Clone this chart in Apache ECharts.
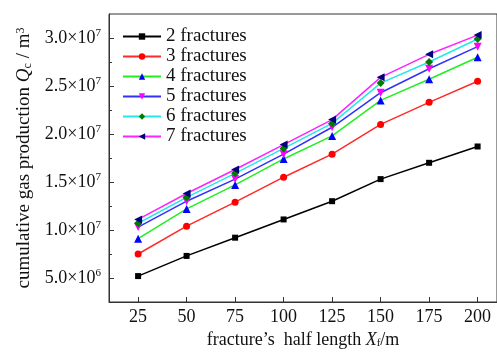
<!DOCTYPE html>
<html>
<head>
<meta charset="utf-8">
<script src="https://cdn.jsdelivr.net/npm/echarts@6/dist/echarts.min.js"></script>
<style>
  html, body { margin: 0; padding: 0; background: #fff; }
  #main { width: 497px; height: 356px; }
</style>
</head>
<body>
<div id="main"></div>
<script>
// fracture half length (m)
const halfLength = [25, 50, 75, 100, 125, 150, 175, 200]
// cumulative gas production (m^3)
const frac2 = [5.2e6, 7.3e6, 9.2e6, 11.1e6, 13.0e6, 15.3e6, 17.0e6, 18.7e6]
const frac3 = [7.5e6, 10.4e6, 12.9e6, 15.5e6, 17.9e6, 21.0e6, 23.3e6, 25.5e6]
const frac4 = [9.1e6, 12.2e6, 14.7e6, 17.4e6, 19.8e6, 23.5e6, 25.7e6, 28.0e6]
const frac5 = [10.3e6, 13.0e6, 15.3e6, 17.9e6, 20.7e6, 24.3e6, 26.8e6, 29.1e6]
const frac6 = [10.7e6, 13.4e6, 15.9e6, 18.5e6, 21.1e6, 25.3e6, 27.5e6, 29.9e6]
const frac7 = [11.1e6, 13.8e6, 16.3e6, 18.9e6, 21.5e6, 25.9e6, 28.3e6, 30.3e6]
const seriesNames = ['2 fractures', '3 fractures', '4 fractures', '5 fractures', '6 fractures', '7 fractures']

// axis ticks
const xTicks = [25, 50, 75, 100, 125, 150, 175, 200]
const yTicks = [5e6, 1e7, 1.5e7, 2e7, 2.5e7, 3e7]
const yMinorTicks = [7.5e6, 1.25e7, 1.75e7, 2.25e7, 2.75e7]

const font = 'Liberation Serif'

// 3.0x10^7 style label
function sciLabel(v) {
    const exp = Math.floor(Math.log10(v))
    const m = (v / Math.pow(10, exp)).toFixed(1)
    return '{b|' + m + '×10}{s|' + exp + '}'
}

const styles = [
    { line: '#000000', mark: '#000000', symbol: 'rect', rotate: 0, size: 6 },
    { line: '#ff2a2a', mark: '#ff0000', symbol: 'circle', rotate: 0, size: 7 },
    { line: '#22ee22', mark: '#0000ff', symbol: 'triangle', rotate: 0, size: 8 },
    { line: '#3030ff', mark: '#ff00ff', symbol: 'triangle', rotate: 180, size: 8 },
    { line: '#22e8e8', mark: '#007a00', symbol: 'diamond', rotate: 0, size: 8 },
    { line: '#ff22ff', mark: '#000080', symbol: 'triangle', rotate: 90, size: 8 }
]
const allData = [frac2, frac3, frac4, frac5, frac6, frac7]

const series = allData.map((d, i) => ({
    name: seriesNames[i],
    type: 'line',
    yAxisIndex: 0,
    data: halfLength.map((x, j) => [x, d[j]]),
    symbol: styles[i].symbol,
    symbolRotate: styles[i].rotate,
    symbolSize: styles[i].size,
    lineStyle: { color: styles[i].line, width: 1.5 },
    itemStyle: { color: styles[i].mark },
    animation: false
}))

const chart = echarts.init(document.getElementById('main'))
chart.setOption({
    backgroundColor: '#fff',
    textStyle: { fontFamily: font },
    grid: {
        left: 109, right: -2, top: 14, bottom: 54,
        show: true, borderColor: '#333', borderWidth: 1
    },
    legend: {
        orient: 'vertical',
        left: 117, top: 22,
        itemWidth: 38, itemHeight: 8,
        itemGap: 1,
        data: seriesNames,
        textStyle: { fontFamily: font, fontSize: 19, color: '#111', lineHeight: 19 }
    },
    xAxis: {
        type: 'value',
        min: 10, max: 210,
        name: "fracture’s  half length {i|X}{sub|f}/m",
        nameLocation: 'middle',
        nameGap: 28,
        nameTextStyle: {
            fontFamily: font, fontSize: 18, color: '#111',
            rich: {
                i: { fontFamily: font, fontSize: 18, fontStyle: 'italic', color: '#111' },
                sub: { fontFamily: font, fontSize: 11, verticalAlign: 'bottom', lineHeight: 8, color: '#111' }
            }
        },
        splitLine: { show: false },
        axisLine: { lineStyle: { color: '#333' } },
        axisTick: { inside: true, length: 5, customValues: xTicks, lineStyle: { color: '#333' } },
        axisLabel: { customValues: xTicks, fontSize: 18, color: '#111', margin: 6, fontFamily: font }
    },
    yAxis: [
        {
            type: 'value',
            min: 2.5e6, max: 3.25e7,
            name: '{t|cumulative gas production }{i|Q}{sub|c}{t| / m}{sup|3}',
            nameLocation: 'middle',
            nameGap: 74,
            nameTextStyle: {
                rich: {
                    t: { fontFamily: font, fontSize: 19, color: '#111' },
                    i: { fontFamily: font, fontSize: 19, fontStyle: 'italic', color: '#111' },
                    sub: { fontFamily: font, fontSize: 12, verticalAlign: 'bottom', lineHeight: 9, color: '#111' },
                    sup: { fontFamily: font, fontSize: 12, verticalAlign: 'top', lineHeight: 12, color: '#111' }
                }
            },
            splitLine: { show: false },
            axisLine: { show: true, lineStyle: { color: '#333' } },
            axisTick: { inside: true, length: 5, customValues: yTicks, lineStyle: { color: '#333' } },
            axisLabel: {
                customValues: yTicks,
                margin: 8,
                formatter: sciLabel,
                rich: {
                    b: { fontFamily: font, fontSize: 18, color: '#111', lineHeight: 20 },
                    s: { fontFamily: font, fontSize: 11, color: '#111', verticalAlign: 'top', lineHeight: 11 }
                }
            }
        },
        {
            type: 'value',
            min: 2.5e6, max: 3.25e7,
            position: 'left',
            splitLine: { show: false },
            axisLine: { show: false },
            axisTick: { inside: true, length: 3, customValues: yMinorTicks, lineStyle: { color: '#333' } },
            axisLabel: { show: false }
        }
    ],
    series: series
})
</script>
</body>
</html>
